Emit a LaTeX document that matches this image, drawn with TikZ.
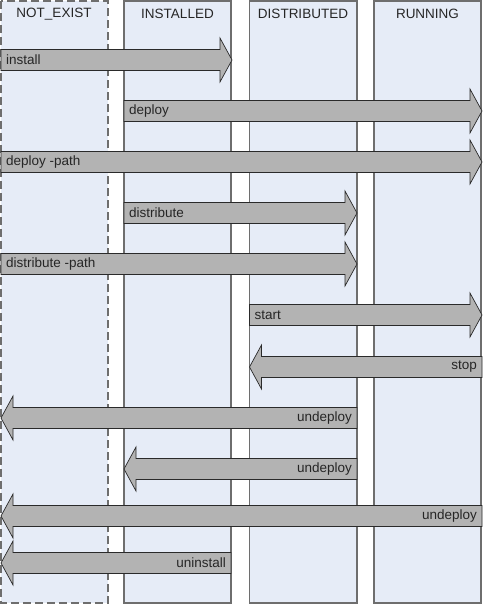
\documentclass[tikz,border=0pt]{standalone}
\usepackage{fontspec}
\setmainfont{Liberation Sans}
\definecolor{colfill}{HTML}{E6ECF7}
\definecolor{colline}{HTML}{6E6E6E}
\definecolor{arrfill}{HTML}{B3B3B3}
\definecolor{arrline}{HTML}{2A2A2A}
\definecolor{txt}{HTML}{262626}
\tikzset{
  x=1pt,y=-1pt,
  colbox/.style={draw=colline, fill=colfill, line width=1.2pt},
  colhead/.style={font=\fontsize{13.5}{15}\selectfont, text=txt},
  arrbody/.style={draw=arrline, fill=arrfill, line width=0.7pt, line join=miter},
  arrlabel/.style={font=\fontsize{13.5}{15}\selectfont, text=txt, inner sep=0pt},
}
% right-pointing arrow: #1 name, #2 x start, #3 x tip, #4 y centre, #5 label
\newcommand\RArrow[5]{%
  \draw[arrbody] (#2,#4-10.5) -- (#3-12,#4-10.5) -- (#3-12,#4-22) -- (#3,#4)
    -- (#3-12,#4+22) -- (#3-12,#4+10.5) -- (#2,#4+10.5) -- cycle;
  \node[arrlabel, anchor=west] (#1) at (#2+5,#4) {#5};}
% left-pointing arrow: #1 name, #2 x start (right end), #3 x tip, #4 y centre, #5 label
\newcommand\LArrow[5]{%
  \draw[arrbody] (#2,#4-10.5) -- (#3+12,#4-10.5) -- (#3+12,#4-22) -- (#3,#4)
    -- (#3+12,#4+22) -- (#3+12,#4+10.5) -- (#2,#4+10.5) -- cycle;
  \node[arrlabel, anchor=east] (#1) at (#2-5,#4) {#5};}
\begin{document}
\begin{tikzpicture}
\useasboundingbox (0,0) rectangle (483,606);
% columns
\draw[colbox, line width=2pt, dash pattern=on 8pt off 4pt] (1,1) rectangle (108,603);
\draw[colbox] (124,1) rectangle (231,603);
\draw[colbox] (249.5,1) rectangle (357,603);
\draw[colbox] (374,1) rectangle (481,603);
\node[colhead] (hne) at (54,14) {NOT\_EXIST};
\node[colhead] (hin) at (177.5,14) {INSTALLED};
\node[colhead] (hdi) at (303,14) {DISTRIBUTED};
\node[colhead] (hru) at (427.5,14) {RUNNING};
% arrows
\RArrow{a1}{1}{232}{60}{install}
\RArrow{a2}{124}{482}{111}{deploy}
\RArrow{a3}{1}{482}{162}{deploy -path}
\RArrow{a4}{124}{357}{213}{distribute}
\RArrow{a5}{1}{357}{264}{distribute -path}
\RArrow{a6}{249.5}{482}{315}{start}
\LArrow{a7}{482}{249.5}{367}{stop}
\LArrow{a8}{357}{1}{418}{undeploy}
\LArrow{a9}{357}{124}{469}{undeploy}
\LArrow{a10}{482}{1}{516}{undeploy}
\LArrow{a11}{231}{1}{563}{uninstall}
\end{tikzpicture}
\end{document}
